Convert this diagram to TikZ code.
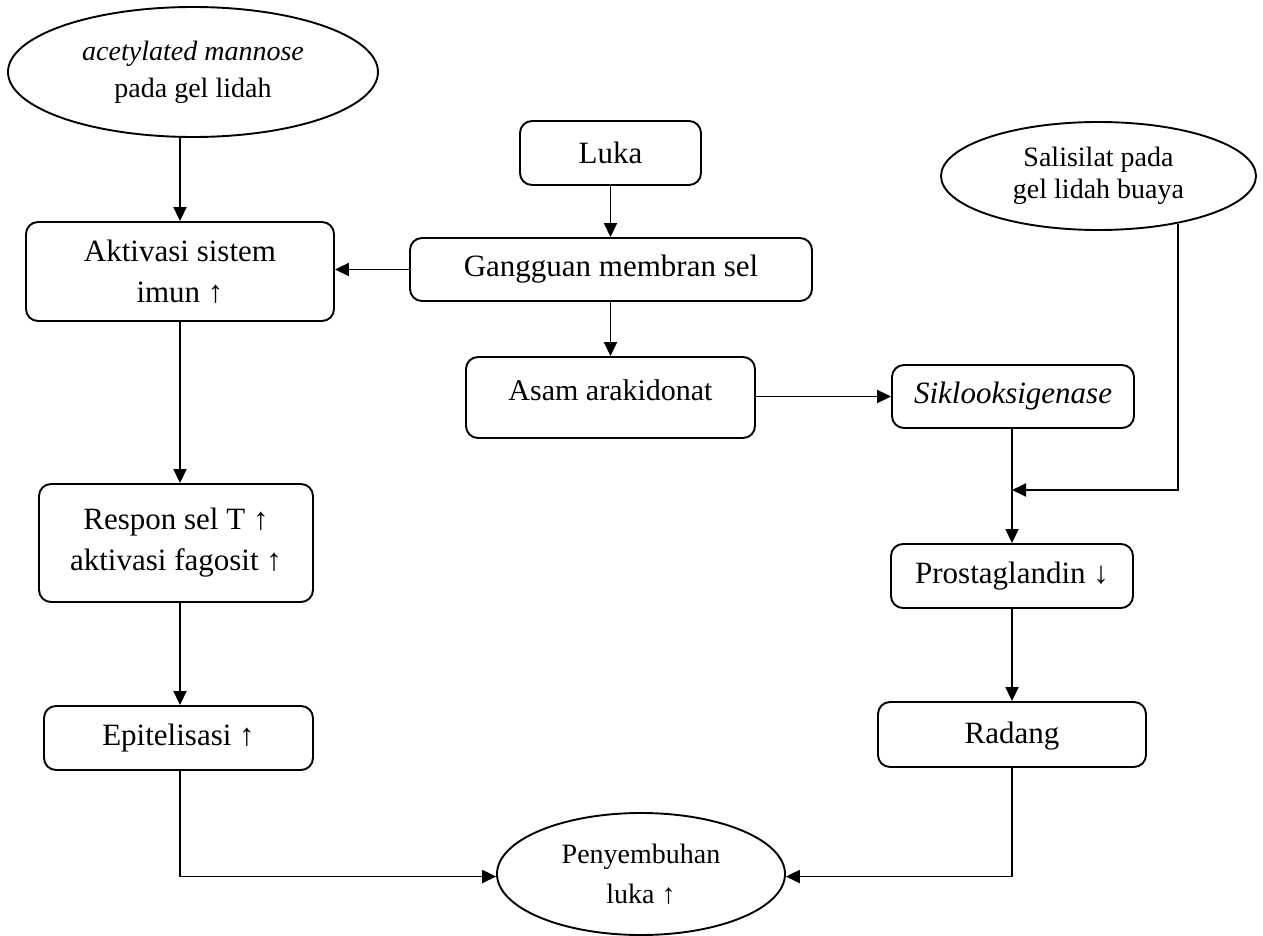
\documentclass[tikz,border=0pt]{standalone}
\usepackage{fontspec}
\setmainfont{Liberation Serif}
\usetikzlibrary{arrows.meta,shapes.geometric}
\begin{document}
\begin{tikzpicture}[x=1pt,y=-1pt,
  box/.style={draw,rounded corners=12pt,line width=1.9pt,inner sep=0pt,
    font=\fontsize{31}{41}\selectfont,align=center},
  oval/.style={draw,ellipse,line width=1.9pt,inner sep=0pt,align=center},
  link/.style={line width=1.9pt,-{Triangle[length=14pt,width=13pt]}}]
\useasboundingbox (0,0) rectangle (1263,936);

% sources
\node[oval,minimum width=370pt,minimum height=130pt,font=\fontsize{28}{37}\selectfont]
  (mannose) at (193,72) {\textit{acetylated mannose}\\pada gel lidah};
\node[oval,minimum width=315pt,minimum height=108pt,font=\fontsize{28}{32}\selectfont]
  (salisilat) at (1098.5,176) {Salisilat pada\\gel lidah buaya};

% main chain
\node[box,minimum width=181pt,minimum height=64pt] (luka) at (610.5,153) {Luka};
\node[box,minimum width=402pt,minimum height=63pt] (gangguan) at (611,269.5) {Gangguan membran sel};
\node[box,minimum width=289pt,minimum height=81pt] (asam) at (610.5,397.5) {};
\node[font=\fontsize{30}{36}\selectfont,anchor=base,inner sep=0pt] (asamtxt) at (610.5,400) {Asam arakidonat};
\node[box,minimum width=242pt,minimum height=63pt,font=\fontsize{31}{41}\selectfont\itshape]
  (siklo) at (1013,396.5) {Siklooksigenase};
\node[box,minimum width=242pt,minimum height=64pt] (prosta) at (1012,576) {Prostaglandin ↓};
\node[box,minimum width=268pt,minimum height=65pt,text height=22pt,text depth=4pt] (radang) at (1012,734.5) {Radang};

% immune branch
\node[box,minimum width=308pt,minimum height=99pt] (aktivasi) at (180,271.5) {Aktivasi sistem\\imun ↑};
\node[box,minimum width=274pt,minimum height=118pt] (respon) at (176,543) {Respon sel T ↑\\aktivasi fagosit ↑};
\node[box,minimum width=269pt,minimum height=64pt] (epitel) at (178.5,738) {Epitelisasi ↑};

% outcome
\node[oval,minimum width=288pt,minimum height=122pt,font=\fontsize{28}{40}\selectfont]
  (sembuh) at (641,874) {Penyembuhan\\luka ↑};

\coordinate (merge) at (1012,490);

% connectors
\draw[link] (mannose.south -| aktivasi.north) -- (aktivasi.north);
\draw[link] (luka.south) -- (luka.south |- gangguan.north);
\draw[link] (gangguan.west) -- (gangguan.west -| aktivasi.east);
\draw[link] (gangguan.south -| asam.north) -- (asam.north);
\draw[link] (siklo.west -| asam.east) -- (siklo.west);
\draw[link] (siklo.south -| merge) -- (merge |- prosta.north);
\draw[link] (salisilat.-31.7) |- (merge);
\draw[link] (prosta.south) -- (prosta.south |- radang.north);
\draw[link] (aktivasi.south) -- (aktivasi.south |- respon.north);
\draw[link] (aktivasi.south |- respon.south) -- (aktivasi.south |- epitel.north);
\draw[link] (aktivasi.south |- epitel.south) |- (sembuh.181.2);
\draw[link] (radang.south) |- (sembuh.-1.6);
\end{tikzpicture}
\end{document}
